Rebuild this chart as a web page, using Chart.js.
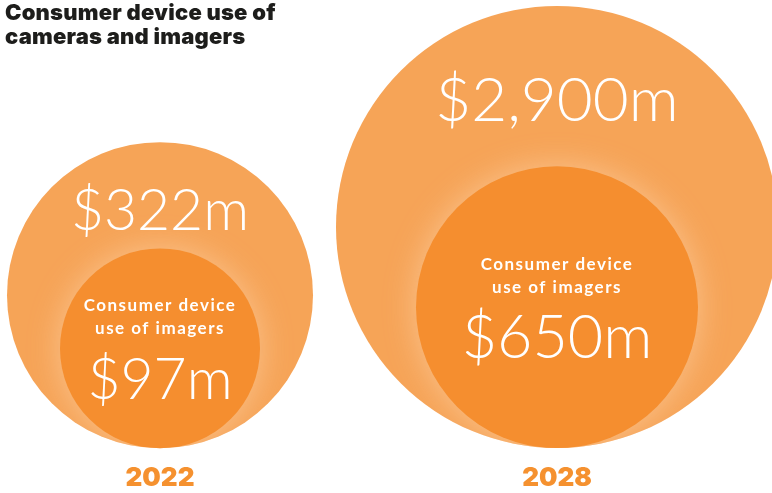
<!DOCTYPE html>
<html>
<head>
<meta charset="utf-8">
<script src="https://cdn.jsdelivr.net/npm/chart.js@4.4.0/dist/chart.umd.min.js"></script>
<style>
  html, body { margin: 0; padding: 0; background: #fff; }
  #wrap { position: relative; width: 772px; height: 493px; overflow: hidden; }
  #title {
    position: absolute; left: 5px; top: 0; margin: 0;
    font: 900 22px Inter, sans-serif; line-height: 24px; letter-spacing: 0.2px; color: #1d1d1b;
  }
</style>
</head>
<body>
<div id="wrap">
  <canvas id="bubbleChart"></canvas>
  <h1 id="title">Consumer device use of<br>cameras and imagers</h1>
</div>
<script>
var years = ['2022', '2028'];
var cameraMarket = [322, 2900];   // cameras and imagers, $m
var imagerMarket = [97, 650];     // imagers only, $m
var imagerCaption = ['Consumer device', 'use of imagers'];

// bubble sizes (px) - bubbles sit on the axis line
var outerRadius = [153, 221];
var innerRadius = [100, 141];
var outerFontSize = [57, 62];
var innerFontSize = [57, 61];

// big bubbles are allowed to run past the plot area, so no auto padding for them
Chart.BubbleController.prototype.getMaxOverflow = function () { return 0; };

function money(v) {
  return '$' + v.toLocaleString('en-US') + 'm';
}

function points(values, radii) {
  return years.map(function (y, i) {
    return { x: y, y: radii[i], r: radii[i], v: values[i] };
  });
}

// soft light ring round the inner bubbles, kept inside the outer ones
var haloPlugin = {
  id: 'halo',
  beforeDatasetDraw: function (chart, args) {
    if (args.index !== 1) return;
    var ctx = chart.ctx;
    ctx.save();
    ctx.beginPath();
    chart.getDatasetMeta(0).data.forEach(function (pt) {
      var r = pt.options.radius;
      ctx.moveTo(pt.x + r, pt.y);
      ctx.arc(pt.x, pt.y, r, 0, Math.PI * 2);
    });
    ctx.clip();
    ctx.shadowColor = 'rgba(252, 200, 150, 0.85)';
    ctx.shadowBlur = 32;
  },
  afterDatasetDraw: function (chart, args) {
    if (args.index !== 1) return;
    chart.ctx.restore();
  }
};

var labelPlugin = {
  id: 'bubbleLabels',
  afterDatasetsDraw: function (chart) {
    var ctx = chart.ctx;
    ctx.save();
    ctx.fillStyle = '#ffffff';
    ctx.textAlign = 'center';

    chart.getDatasetMeta(0).data.forEach(function (pt, i) {
      var r = pt.options.radius;
      ctx.font = '300 ' + outerFontSize[i] + 'px Lato, sans-serif';
      ctx.textBaseline = 'alphabetic';
      ctx.fillText(money(cameraMarket[i]), pt.x, pt.y - 0.6 * r + 27);
    });

    chart.getDatasetMeta(1).data.forEach(function (pt, i) {
      ctx.font = 'bold 17px Lato, sans-serif';
      ctx.letterSpacing = '1.5px';
      ctx.textBaseline = 'middle';
      ctx.fillText(imagerCaption[0], pt.x, pt.y - 43);
      ctx.fillText(imagerCaption[1], pt.x, pt.y - 20);
      ctx.letterSpacing = '0px';
      ctx.font = '300 ' + innerFontSize[i] + 'px Lato, sans-serif';
      ctx.textBaseline = 'alphabetic';
      ctx.fillText(money(imagerMarket[i]), pt.x, pt.y + 51);
    });
    ctx.restore();
  }
};

var ctx = document.getElementById('bubbleChart').getContext('2d');
var chart = new Chart(ctx, {
  type: 'bubble',
  data: {
    labels: years,
    datasets: [{
      label: 'Cameras and imagers',
      data: points(cameraMarket, outerRadius),
      backgroundColor: '#f6a457',
      borderWidth: 0,
      clip: false,
      order: 2
    }, {
      label: 'Imagers',
      data: points(imagerMarket, innerRadius),
      backgroundColor: '#f58e2f',
      borderWidth: 0,
      clip: false,
      order: 1
    }]
  },
  options: {
    responsive: true,
    maintainAspectRatio: false,
    animation: false,
    events: [],
    layout: {
      padding: { left: 160, right: 215, top: 0, bottom: -15 }
    },
    scales: {
      x: {
        type: 'category',
        offset: false,
        grid: { display: false, drawTicks: false },
        border: { display: false },
        ticks: {
          color: '#f5912f',
          padding: 14,
          font: { family: 'Inter', size: 26, weight: 900 }
        }
      },
      y: {
        display: false,
        min: 0,
        max: 447
      }
    },
    plugins: {
      legend: { display: false },
      tooltip: { enabled: false }
    }
  },
  plugins: [haloPlugin, labelPlugin]
});
</script>
</body>
</html>
